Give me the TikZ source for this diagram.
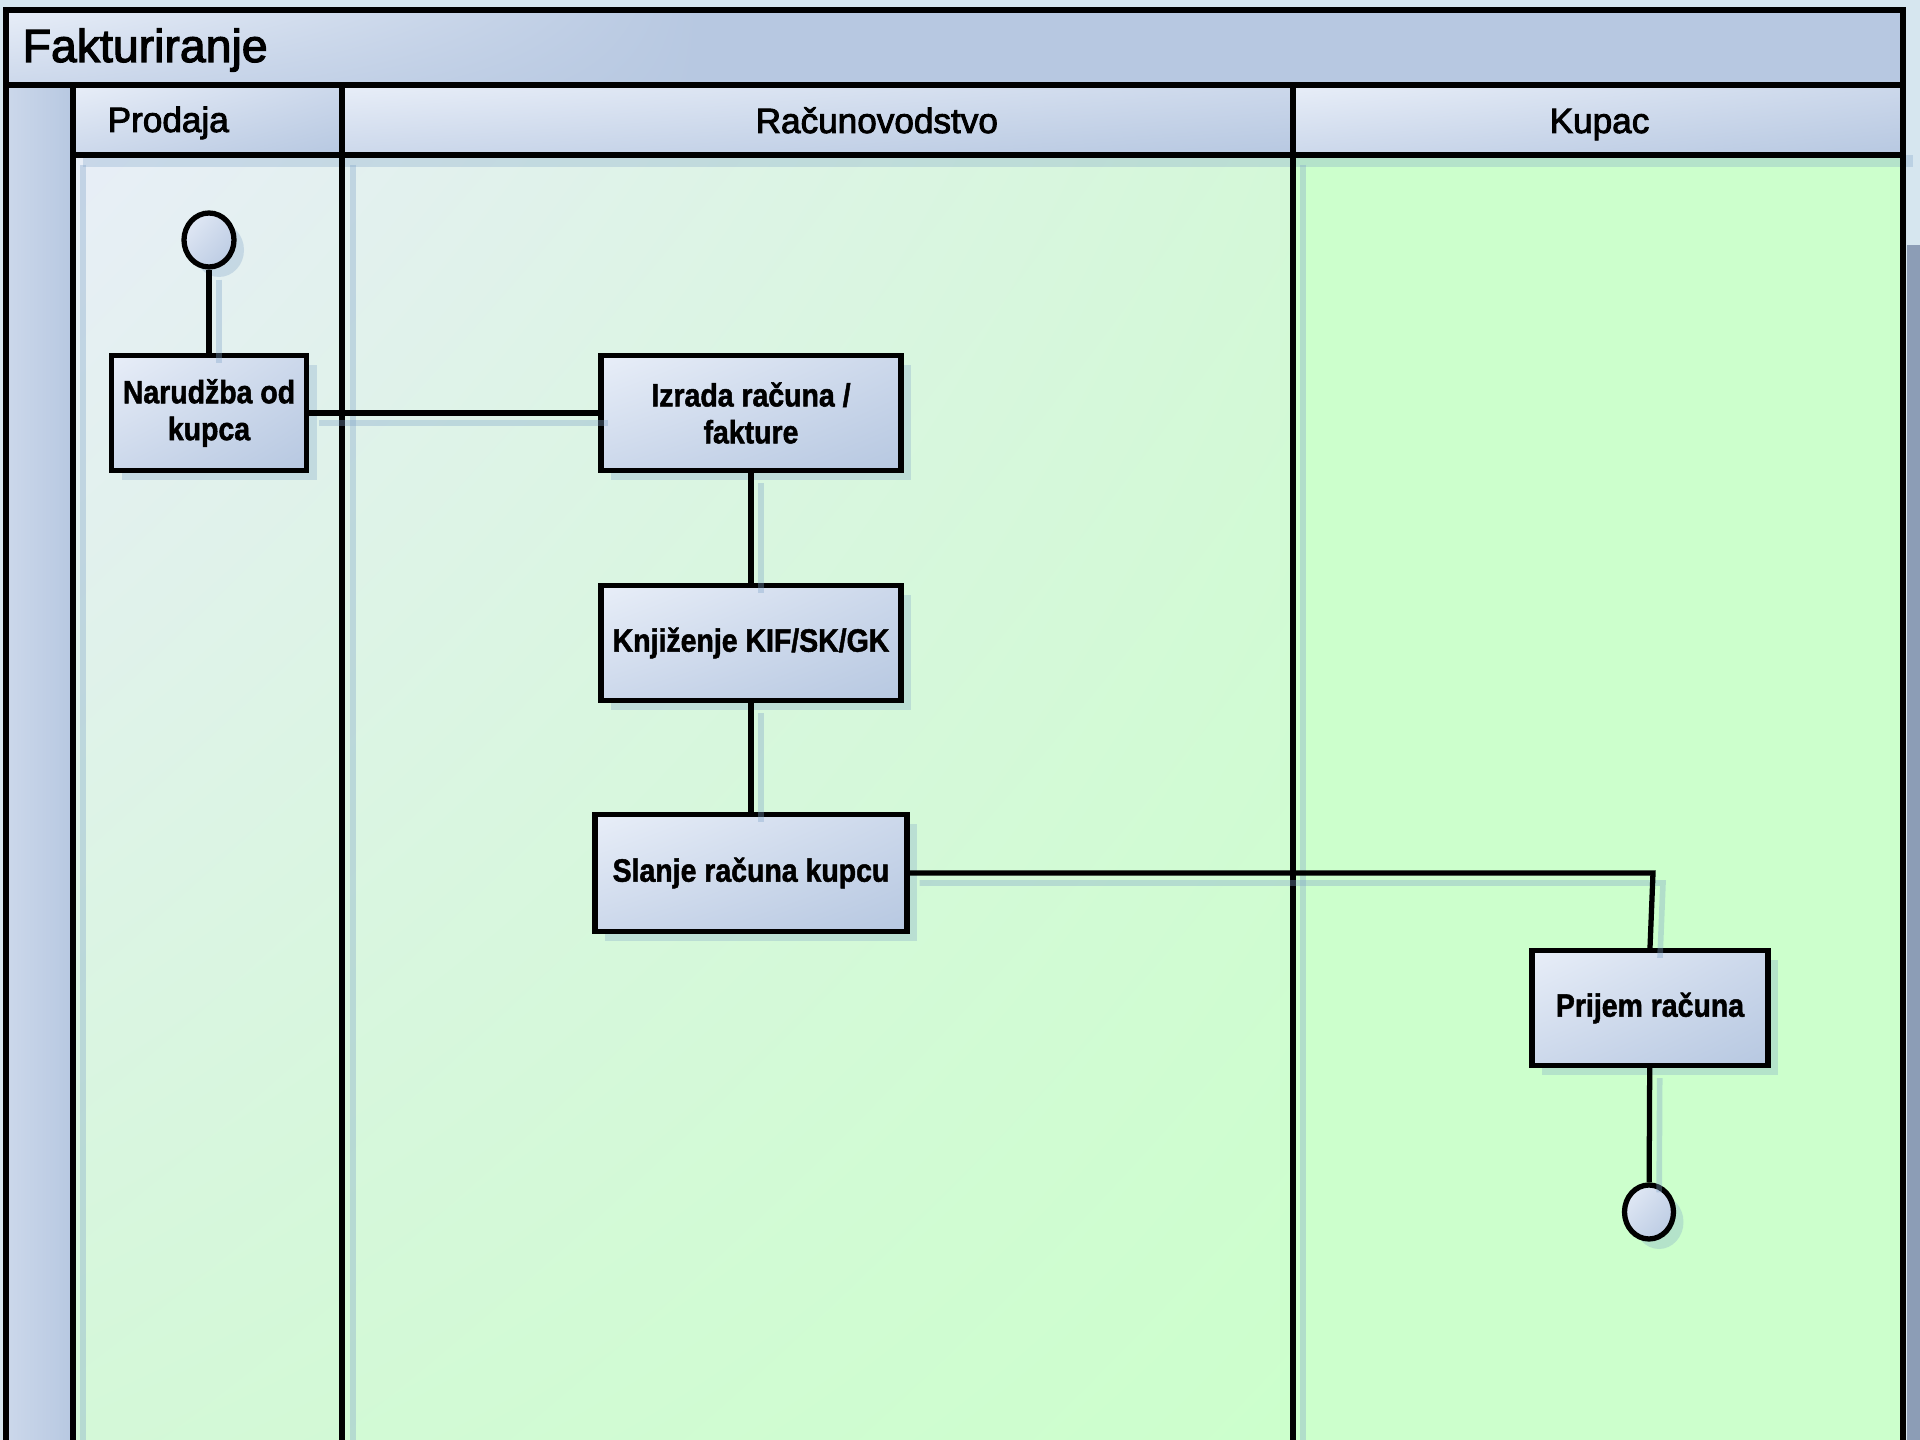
\documentclass[tikz,border=0pt]{standalone}
\usepackage{fontspec}
\setmainfont{Liberation Sans}
\newfontfamily\headfont[FakeBold=2.5]{Liberation Sans}
\newfontfamily\boxfont[FakeStretch=0.88, FakeBold=1.5]{Liberation Sans}
\usetikzlibrary{shadows,shadings,shapes.geometric}

\definecolor{pagebg}{HTML}{D6E6EF}
\definecolor{edgegray}{HTML}{8C9DB6}
\definecolor{headlight}{HTML}{E8EEF8}
\definecolor{headmid}{HTML}{CCD8EB}
\definecolor{headdark}{HTML}{B7C8E1}
\definecolor{lanetop}{HTML}{E8EEF7}
\definecolor{lanemid}{HTML}{D4F8D8}
\definecolor{lanegreen}{HTML}{CCFFCC}
\definecolor{shadowblue}{HTML}{7FA3C8}

\tikzset{
  okvir/.style={draw=black, line width=1.6pt},
  sjenalinija/.style={draw=shadowblue, opacity=0.35, line width=1.6pt},
  zaglavlje/.style={upper left=headlight, upper right=headmid, lower left=headmid, lower right=headdark},
  traka/.style={font=\headfont\fontsize{10}{12}\selectfont, inner sep=0pt},
  aktivnost/.style={rectangle, draw=black, line width=1.5pt, minimum height=11.5mm,
    upper left=headlight, upper right=headmid, lower left=headmid, lower right=headdark,
    align=center, inner sep=1pt, font=\boxfont\bfseries\fontsize{9.2}{10.5}\selectfont,
    drop shadow={shadow xshift=1mm, shadow yshift=-1mm, fill=shadowblue, opacity=0.3}},
  stanje/.style={ellipse, draw=black, line width=1.5pt, minimum width=5mm, minimum height=5.4mm, inner sep=0pt,
    upper left=headlight, upper right=headmid, lower left=headmid, lower right=headdark,
    drop shadow={shadow xshift=1mm, shadow yshift=-1mm, fill=shadowblue, opacity=0.3}},
  veza/.style={draw=black, line width=1.5pt,
    preaction={draw=shadowblue, opacity=0.35, line width=1.6pt, transform canvas={xshift=1mm, yshift=-1mm}}}
}

\begin{document}
\begin{tikzpicture}[x=0.1mm, y=-0.1mm]
\useasboundingbox (0,0) rectangle (1920,1440);

% pozadina
\fill[pagebg] (0,0) rectangle (1920,1440);
\fill[edgegray] (1907,245) rectangle (1920,1440);

% trake
\shade[upper left=lanetop, upper right=lanemid, lower left=lanemid, lower right=lanegreen] (73,155) rectangle (1293,1440);
\fill[lanegreen] (1293,155) rectangle (1903,1440);
\shade[left color=headmid, right color=headdark] (6,85) rectangle (73,1440);

% naslov
\fill[headdark] (6,10) rectangle (1903,85);
\shade[upper left=headlight, upper right=headdark, lower left=headmid, lower right=headdark] (6,10) rectangle (700,85);

% zaglavlja traka
\fill[shadowblue, opacity=0.3] (83,155) rectangle (1913,167);
\foreach \a/\b in {73/343, 343/1293, 1293/1903}
  \shade[zaglavlje] (\a,85) rectangle (\b,155);

% sjene linija
\foreach \x in {83, 353, 1303}
  \draw[sjenalinija] (\x,165) -- (\x,1440);

% linije
\draw[okvir] (6,1440) -- (6,10) -- (1903,10) -- (1903,1440);
\draw[okvir] (6,85) -- (1903,85);
\draw[okvir] (73,155) -- (1903,155);
\foreach \x in {73, 342, 1293}
  \draw[okvir] (\x,85) -- (\x,1440);

% tekst
\node[anchor=base west, inner sep=0pt, font=\headfont\fontsize{13.2}{15}\selectfont] (naslov) at (22,62) {Fakturiranje};
\node[traka, anchor=base west] (prodaja) at (107,132) {Prodaja};
\node[traka, anchor=base west] (racunovodstvo) at (755,133) {Računovodstvo};
\node[traka, anchor=base west] (kupac) at (1549,133) {Kupac};

% cvorovi
\node[stanje] (pocetak) at (209,240) {};
\node[aktivnost, minimum width=19.5mm] (narudzba) at (209,413) {Narudžba od\\kupca};
\node[aktivnost, minimum width=30mm] (izrada) at (751,413) {Izrada računa /\\fakture};
\node[aktivnost, minimum width=30mm] (knjizenje) at (751,643) {Knjiženje KIF/SK/GK};
\node[aktivnost, minimum width=31.2mm, minimum height=11.7mm] (slanje) at (751,873) {Slanje računa kupcu};
\node[aktivnost, minimum width=23.6mm] (prijem) at (1650,1008) {Prijem računa};
\node[stanje, minimum width=4.9mm] (kraj) at (1649,1212) {};

% veze
\coordinate (skretanje) at (1653,873);
\draw[veza] (pocetak) -- (narudzba);
\draw[veza] (narudzba) -- (izrada);
\draw[veza] (izrada) -- (knjizenje);
\draw[veza] (knjizenje) -- (slanje);
\draw[veza] (slanje.east) -- (skretanje) -- (prijem.north);
\draw[veza] (prijem) -- (kraj);
\end{tikzpicture}
\end{document}
